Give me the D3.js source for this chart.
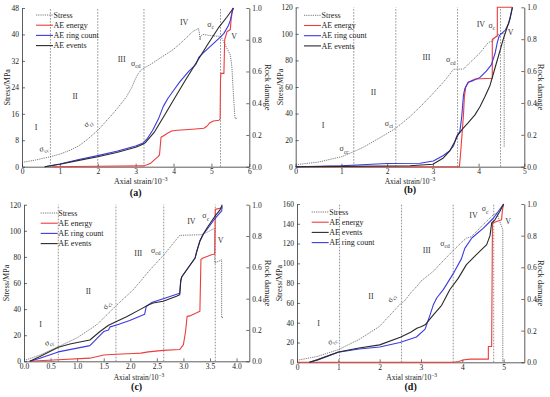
<!DOCTYPE html>
<html><head><meta charset="utf-8">
<script src="https://cdn.jsdelivr.net/npm/d3@7/dist/d3.min.js"></script>
<style>
body{margin:0;background:#fff;}
svg{font-family:"Liberation Serif","Times New Roman",serif;}
</style></head><body><svg id="chart" width="550" height="397"></svg>
<script>
// ---------- Panel (a) ----------
const aStress = [[0,1.3],[0.35,2],[0.74,3.0],[1.0,3.8],[1.27,5.0],[1.5,6.3],[1.71,8.1],[2.01,11.1],[2.2,13.5],[2.41,16.2],[2.6,18.8],[2.76,21.2],[2.9,24],[2.98,26.2],[3.07,28.2],[3.15,29.3],[3.25,30],[3.4,31],[3.6,32.5],[3.8,34],[4.0,35.5],[4.2,37.5],[4.35,39.1],[4.5,40.8],[4.62,41.6],[4.66,41.8],[4.68,40.5],[4.7,38.3],[4.72,39.5],[4.77,40],[4.9,39.8],[5.0,39.6],[5.25,39.4],[5.4,36],[5.5,33.8],[5.54,30.2],[5.58,22],[5.62,15],[5.64,14.4],[5.67,14.9]];
const aEnergy = [[0.78,0],[2.0,0.003],[3.2,0.005],[3.3,0.012],[3.4,0.022],[3.5,0.045],[3.58,0.06],[3.63,0.075],[3.65,0.13],[3.67,0.185],[3.75,0.197],[3.85,0.212],[3.95,0.225],[4.1,0.23],[4.5,0.236],[4.8,0.242],[4.88,0.255],[4.95,0.275],[5.05,0.288],[5.2,0.293],[5.23,0.3],[5.24,0.55],[5.25,0.588],[5.33,0.588],[5.35,0.8],[5.41,0.85],[5.5,0.865],[5.52,0.93],[5.56,0.99],[5.58,1.0]];
const aRing = [[0.6,0],[1.0,0.017],[1.5,0.045],[2.0,0.07],[2.5,0.097],[3.0,0.13],[3.2,0.15],[3.3,0.175],[3.45,0.23],[3.6,0.3],[3.73,0.38],[3.85,0.43],[4.0,0.48],[4.17,0.536],[4.4,0.6],[4.59,0.645],[4.67,0.69],[4.8,0.72],[5.0,0.765],[5.25,0.82],[5.33,0.84],[5.45,0.89],[5.5,0.924],[5.54,0.97],[5.58,1.0]];
const aEvents = [[0.6,0],[1.0,0.015],[1.5,0.04],[2.0,0.063],[2.5,0.09],[3.0,0.122],[3.1,0.132],[3.2,0.143],[3.25,0.15],[3.5,0.22],[3.75,0.32],[4.0,0.42],[4.3,0.54],[4.6,0.655],[4.9,0.77],[5.2,0.88],[5.4,0.94],[5.58,1.0]];
const aPhases = [0.75, 2.0, 3.22, 5.24];
const aXTicks = [0,1,2,3,4,5,6];
const aYTicks = [0,8,16,24,32,40,48];
const aNotes = [["I",0.37,11.2,"",0],["II",1.4,20.5,"",0],["III",2.63,31.8,"",0],["IV",4.28,43,"",0],["V",5.6,38.5,"",0],
  ["σ",0.59,4.8,"cc",-15],["σ",1.78,12.5,"ci",-35],["σ",3.0,30.5,"cd",0],["σ",4.98,42.2,"c",0]];

// ---------- Panel (b) ----------
const bStress = [[0,1.5],[0.5,3.5],[1.0,7.5],[1.27,11.3],[1.5,15],[2.0,25],[2.19,29],[2.5,37.7],[2.75,46],[3.0,55],[3.2,62.5],[3.3,66.5],[3.45,73.3],[3.55,73.5],[3.67,73.5],[3.8,78],[4.03,85.6],[4.2,93],[4.27,94.5],[4.3,94],[4.36,97.5],[4.45,100],[4.56,100.5],[4.56,15]];
const bEnergy = [[0,0],[3.58,0],[3.6,0.06],[3.64,0.21],[3.67,0.33],[3.69,0.44],[3.72,0.5],[3.78,0.53],[3.92,0.55],[4.3,0.555],[4.3,0.8],[4.41,0.82],[4.41,1.0],[4.74,1.0]];
const bRing = [[0,0],[1.0,0.006],[2.0,0.02],[2.72,0.022],[3.01,0.036],[3.23,0.07],[3.37,0.1],[3.45,0.13],[3.52,0.19],[3.59,0.22],[3.63,0.31],[3.67,0.45],[3.7,0.49],[3.77,0.53],[3.88,0.54],[4.03,0.56],[4.17,0.6],[4.28,0.64],[4.36,0.71],[4.41,0.78],[4.45,0.82],[4.5,0.835],[4.58,0.855],[4.66,0.9],[4.74,1.0]];
const bEvents = [[0,0],[1.0,0.002],[2.0,0.004],[2.5,0.006],[3.0,0.015],[3.23,0.055],[3.37,0.1],[3.48,0.157],[3.55,0.2],[3.66,0.24],[3.77,0.275],[3.92,0.325],[4.03,0.376],[4.14,0.44],[4.25,0.51],[4.32,0.58],[4.4,0.66],[4.47,0.73],[4.54,0.8],[4.62,0.87],[4.69,0.93],[4.74,1.0]];
const bPhases = [1.27, 2.19, 3.54, 4.48];
const bXTicks = [0,1,2,3,4,5];
const bYTicks = [0,20,40,60,80,100,120];
const bNotes = [["I",0.6,29,"",0],["II",1.7,54,"",0],["III",2.86,80.5,"",0],["IV",4.05,105.5,"",0],["V",4.7,99,"",0],
  ["σ",1.06,11.5,"cc",0],["σ",2.04,31,"ci",0],["σ",3.39,78.5,"cd",0],["σ",4.29,104.5,"c",0]];

// ---------- Panel (c) ----------
const cStress = [[0,0.5],[0.3,4.8],[0.645,11.2],[1.0,18],[1.37,28],[1.73,42.5],[2.06,55],[2.37,70],[2.63,81.5],[2.93,96.5],[3.34,97],[3.45,99],[3.59,102],[3.59,75.3],[3.72,77.8],[3.72,33.2],[3.76,34]];
const cEnergy = [[0.1,0],[0.645,0.01],[1.24,0.02],[1.5,0.04],[1.73,0.045],[2.06,0.05],[2.2,0.052],[2.34,0.06],[2.62,0.07],[2.93,0.075],[3.0,0.106],[3.04,0.19],[3.07,0.287],[3.12,0.29],[3.25,0.31],[3.31,0.32],[3.33,0.65],[3.37,0.66],[3.53,0.68],[3.59,0.685],[3.6,0.97],[3.73,0.98]];
const cRing = [[0.11,0],[0.3,0.02],[0.645,0.06],[1.24,0.1],[1.37,0.145],[1.5,0.19],[1.59,0.2],[1.62,0.22],[1.73,0.23],[1.99,0.26],[2.27,0.3],[2.3,0.35],[2.4,0.375],[2.62,0.4],[2.93,0.435],[2.95,0.52],[2.97,0.54],[3.22,0.66],[3.25,0.7],[3.31,0.77],[3.37,0.81],[3.44,0.84],[3.59,0.91],[3.72,0.96],[3.73,0.99]];
const cEvents = [[0.11,0],[0.3,0.03],[0.645,0.09],[0.865,0.11],[1.24,0.136],[1.43,0.19],[1.59,0.23],[1.73,0.253],[1.93,0.285],[2.18,0.33],[2.34,0.36],[2.43,0.372],[2.62,0.383],[2.87,0.415],[2.93,0.425],[2.95,0.51],[2.97,0.54],[3.22,0.66],[3.25,0.7],[3.31,0.766],[3.37,0.81],[3.44,0.85],[3.59,0.925],[3.69,0.967],[3.73,1.0]];
const cPhases = [0.645, 1.73, 2.63, 3.6];
const cXTicks = [0,0.5,1.0,1.5,2.0,2.5,3.0,3.5,4.0];
const cYTicks = [0,20,40,60,80,100,120];
const cNotes = [["I",0.31,26,"",0],["II",1.21,51.5,"",0],["III",2.15,80.5,"",0],["IV",3.15,105.5,"",0],["V",3.7,91,"",0],
  ["σ",0.49,13,"cc",-20],["σ",1.59,42,"ci",-60],["σ",2.48,83,"cd",0],["σ",3.42,109.5,"c",0]];

// ---------- Panel (d) ----------
const dStress = [[0,2],[0.5,6],[1.0,12.8],[1.5,23],[2.0,36.4],[2.49,58.5],[2.6,62],[2.75,70],[2.9,76.8],[3.0,82],[3.3,92],[3.5,101],[3.78,113],[4.0,122],[4.1,125.5],[4.22,127],[4.5,139],[4.75,149],[4.83,151],[4.98,134],[4.98,1]];
const dEnergy = [[0,0],[3.78,0],[3.91,0.005],[4.05,0.016],[4.2,0.02],[4.63,0.02],[4.63,0.1],[4.71,0.1],[4.73,0.88],[4.95,0.9],[4.97,0.96],[5.0,1.0]];
const dEvents = [[0.3,0],[0.5,0.017],[1.0,0.065],[1.5,0.09],[2.0,0.11],[2.5,0.158],[2.75,0.19],[2.9,0.215],[3.0,0.225],[3.1,0.237],[3.3,0.3],[3.5,0.36],[3.7,0.46],[3.9,0.53],[4.1,0.617],[4.34,0.68],[4.59,0.743],[4.67,0.8],[4.71,0.88],[4.79,0.9],[4.91,0.954],[5.0,1.0]];
const dRing = [[0.3,0],[0.5,0.015],[1.0,0.063],[1.5,0.084],[2.0,0.097],[2.49,0.125],[2.89,0.16],[3.1,0.21],[3.22,0.3],[3.3,0.364],[3.38,0.406],[3.54,0.459],[3.78,0.56],[3.98,0.655],[4.06,0.72],[4.23,0.785],[4.51,0.848],[4.75,0.91],[5.0,1.0]];
const dPhases = [1.03, 2.53, 3.78, 4.76];
const dXTicks = [0,1,2,3,4,5];
const dYTicks = [0,20,40,60,80,100,120,140,160];
const dNotes = [["I",0.52,36.5,"",0],["II",1.79,64,"",0],["III",3.14,110,"",0],["IV",4.27,146,"",0],["V",5.11,140,"",0],
  ["σ",0.88,19.5,"cc",-30],["σ",2.33,63.5,"ci",-60],["σ",3.58,117.5,"cd",0],["σ",4.55,152.5,"c",0]];

const damageTicks = [0,0.2,0.4,0.6,0.8,1.0];
const seriesNames = {stress:"Stress", energy:"AE energy", ring:"AE ring count", events:"AE events"};
const colors = {stress:"#555", energy:"#ee3c3c", ring:"#3a3ae0", events:"#2a2a2a"};

const panels = [
  {tag:"(a)", left:22, right:249.3, top:8, bottom:166.7, xmax:6, ymax:48, xTicks:aXTicks, yTicks:aYTicks, xFmt:d3.format("d"),
   stress:aStress, energy:aEnergy, ring:aRing, events:aEvents, phases:aPhases, notes:aNotes,
   legend:["stress","energy","ring","events"], legX:36, legY:15, titleX:140.7, titleY:184, titleFs:8, capY:195.5, yLabX:7, rLabX:268},
  {tag:"(b)", left:295.7, right:524.3, top:7.3, bottom:166.7, xmax:5, ymax:120, xTicks:bXTicks, yTicks:bYTicks, xFmt:d3.format("d"),
   stress:bStress, energy:bEnergy, ring:bRing, events:bEvents, phases:bPhases, notes:bNotes,
   legend:["stress","energy","ring","events"], legX:304, legY:15.3, titleX:410, titleY:183.5, titleFs:7.5, capY:193, yLabX:280, rLabX:541},
  {tag:"(c)", left:24, right:249.3, top:204.7, bottom:361.3, xmax:4.24, ymax:120, xTicks:cXTicks, yTicks:cYTicks, xFmt:d3.format(".1f"),
   stress:cStress, energy:cEnergy, ring:cRing, events:cEvents, phases:cPhases, notes:cNotes,
   legend:["stress","energy","ring","events"], legX:40.7, legY:213, titleX:139, titleY:379.5, titleFs:7.5, capY:390, yLabX:6, rLabX:268},
  {tag:"(d)", left:297, right:524.3, top:204, bottom:362.3, xmax:5.5, ymax:160, xTicks:dXTicks, yTicks:dYTicks, xFmt:d3.format("d"),
   stress:dStress, energy:dEnergy, ring:dRing, events:dEvents, phases:dPhases, notes:dNotes,
   legend:["stress","energy","events","ring"], legX:311.7, legY:212, titleX:411.7, titleY:379.5, titleFs:7.5, capY:390, yLabX:279, rLabX:541}
];

const svg = d3.select("#chart");

function drawPanel(p){
  const g = svg.append("g");
  const x = d3.scaleLinear().domain([0,p.xmax]).range([p.left,p.right]);
  const y = d3.scaleLinear().domain([0,p.ymax]).range([p.bottom,p.top]);
  const yr = d3.scaleLinear().domain([0,1]).range([p.bottom,p.top]);

  // axes (inward ticks)
  const ax = g.append("g").attr("transform",`translate(0,${p.bottom})`)
    .call(d3.axisBottom(x).tickValues(p.xTicks).tickFormat(p.xFmt).tickSizeInner(-3).tickSizeOuter(0).tickPadding(2));
  const ay = g.append("g").attr("transform",`translate(${p.left},0)`)
    .call(d3.axisLeft(y).tickValues(p.yTicks).tickFormat(d3.format("d")).tickSizeInner(-3).tickSizeOuter(0).tickPadding(3));
  const ar = g.append("g").attr("transform",`translate(${p.right},0)`)
    .call(d3.axisRight(yr).tickValues(damageTicks).tickFormat(d3.format(".1f")).tickSizeInner(-3).tickSizeOuter(0).tickPadding(3));
  [ax,ay,ar].forEach(a=>{
    a.selectAll("path.domain").attr("stroke","#333").attr("stroke-width",0.8);
    a.selectAll(".tick line").attr("stroke","#333").attr("stroke-width",0.7);
    a.selectAll("text").attr("font-family","Liberation Serif, serif").attr("font-size",7.5).attr("fill","#222");
  });

  // phase boundaries
  g.append("g").selectAll("line").data(p.phases).join("line")
    .attr("x1",d=>x(d)).attr("x2",d=>x(d)).attr("y1",p.bottom).attr("y2",p.top)
    .attr("stroke","#777").attr("stroke-width",0.8).attr("stroke-dasharray","1.6,1.4");

  const lineS = d3.line().x(d=>x(d[0])).y(d=>y(d[1]));
  const lineD = d3.line().x(d=>x(d[0])).y(d=>yr(d[1]));

  g.append("path").datum(p.stress).attr("d",lineS).attr("fill","none")
    .attr("stroke",colors.stress).attr("stroke-width",0.8).attr("stroke-dasharray","1.2,1");
  ["energy","ring","events"].forEach(k=>{
    g.append("path").datum(p[k]).attr("d",lineD).attr("fill","none")
      .attr("stroke",colors[k]).attr("stroke-width",1.1).attr("stroke-linejoin","round");
  });

  // legend
  const lg = g.append("g");
  p.legend.forEach((k,i)=>{
    const yy = p.legY + i*10.2;
    const ln = lg.append("line").attr("x1",p.legX).attr("x2",p.legX+17).attr("y1",yy).attr("y2",yy)
      .attr("stroke",colors[k]).attr("stroke-width",k==="stress"?0.8:1.1);
    if(k==="stress") ln.attr("stroke-dasharray","1.2,1");
    lg.append("text").attr("x",p.legX+17.5).attr("y",yy+2.6).attr("font-size",8).attr("fill","#222").text(seriesNames[k]);
  });

  // annotations
  p.notes.forEach(n=>{
    const t = g.append("text").attr("font-size",8).attr("fill","#333")
      .attr("text-anchor","middle")
      .attr("transform",`translate(${x(n[1])},${y(n[2])}) rotate(${n[4]})`);
    t.append("tspan").text(n[0]);
    if(n[3]) t.append("tspan").attr("dy",2.2).attr("font-size",5.5).text(n[3]);
  });

  // titles
  const xt = g.append("text").attr("x",p.titleX).attr("y",p.titleY).attr("text-anchor","middle")
    .attr("font-size",p.titleFs).attr("fill","#222");
  xt.append("tspan").text("Axial strain/10");
  xt.append("tspan").attr("dy",-3).attr("font-size",5.5).text("−3");
  g.append("text").attr("transform",`translate(${p.yLabX},${(p.top+p.bottom)/2}) rotate(-90)`)
    .attr("text-anchor","middle").attr("dy","0.35em").attr("font-size",8).attr("fill","#222").text("Stress/MPa");
  g.append("text").attr("transform",`translate(${p.rLabX},${(p.top+p.bottom)/2}) rotate(90)`)
    .attr("text-anchor","middle").attr("dy","0.35em").attr("font-size",8.5).attr("fill","#222").text("Rock damage");
  g.append("text").attr("x",(p.left+p.right)/2).attr("y",p.capY).attr("text-anchor","middle")
    .attr("font-size",10).attr("font-weight","bold").attr("fill","#111").text(p.tag);
}
panels.forEach(drawPanel);
</script></body></html>
